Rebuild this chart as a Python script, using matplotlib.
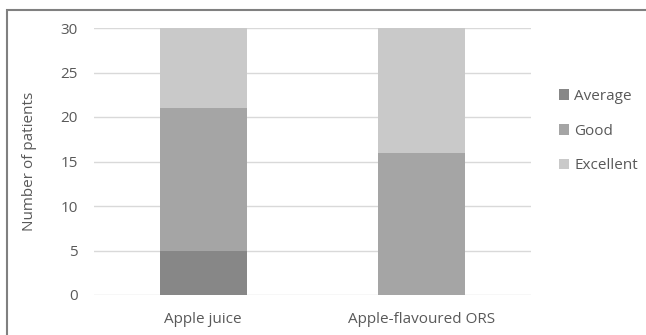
import matplotlib
matplotlib.use("Agg")
import matplotlib.pyplot as plt
from matplotlib.patches import Rectangle

categories = ["Apple juice", "Apple-flavoured ORS"]
series_names = ["Average", "Good", "Excellent"]
average = [5, 0]
good = [16, 16]
excellent = [9, 14]
yticks = [0, 5, 10, 15, 20, 25, 30]

colors = ["#878787", "#a5a5a5", "#c9c9c9"]
txt = "#595959"

plt.rcParams['font.family'] = ['Open Sans', 'DejaVu Sans']

W, H = 646, 335
fig = plt.figure(figsize=(W/100, H/100), dpi=100)
ax = fig.add_axes([94/W, 1-295/H, (531-94)/W, (295-28)/H])

x = list(range(len(categories)))
bottom = [0]*len(categories)
for name, vals, c in zip(series_names, [average, good, excellent], colors):
    ax.bar(x, vals, width=0.4, bottom=bottom, color=c, label=name, zorder=3)
    bottom = [b+v for b, v in zip(bottom, vals)]

ax.set_xlim(-0.5, 1.5)
ax.set_ylim(0, 30)
ax.set_yticks(yticks)
ax.set_xticks(x)
ax.set_xticklabels(categories)
ax.grid(axis='y', color='#d9d9d9', linewidth=1, zorder=0)
for s in ax.spines.values():
    s.set_visible(False)
ax.tick_params(axis='both', length=0, colors=txt, labelsize=11)
ax.tick_params(axis='y', pad=11.5)
ax.tick_params(axis='x', pad=12)
ax.set_ylabel("Number of patients", color=txt, fontsize=11, labelpad=17)

handles, labels = ax.get_legend_handles_labels()
leg = fig.legend(handles, labels, loc='upper left', bbox_to_anchor=(545/W, 1-75/H),
                 frameon=False, fontsize=11, handlelength=0.7, handleheight=0.7,
                 handletextpad=0.3, labelspacing=1.3, labelcolor=txt)

fig.patches.append(Rectangle((6.5/W, -0.1), 1.2, 1-9.5/H+0.1, transform=fig.transFigure,
                             fill=False, edgecolor='#808080', linewidth=1.5))

fig.savefig("out.png", dpi=100, facecolor='white')
